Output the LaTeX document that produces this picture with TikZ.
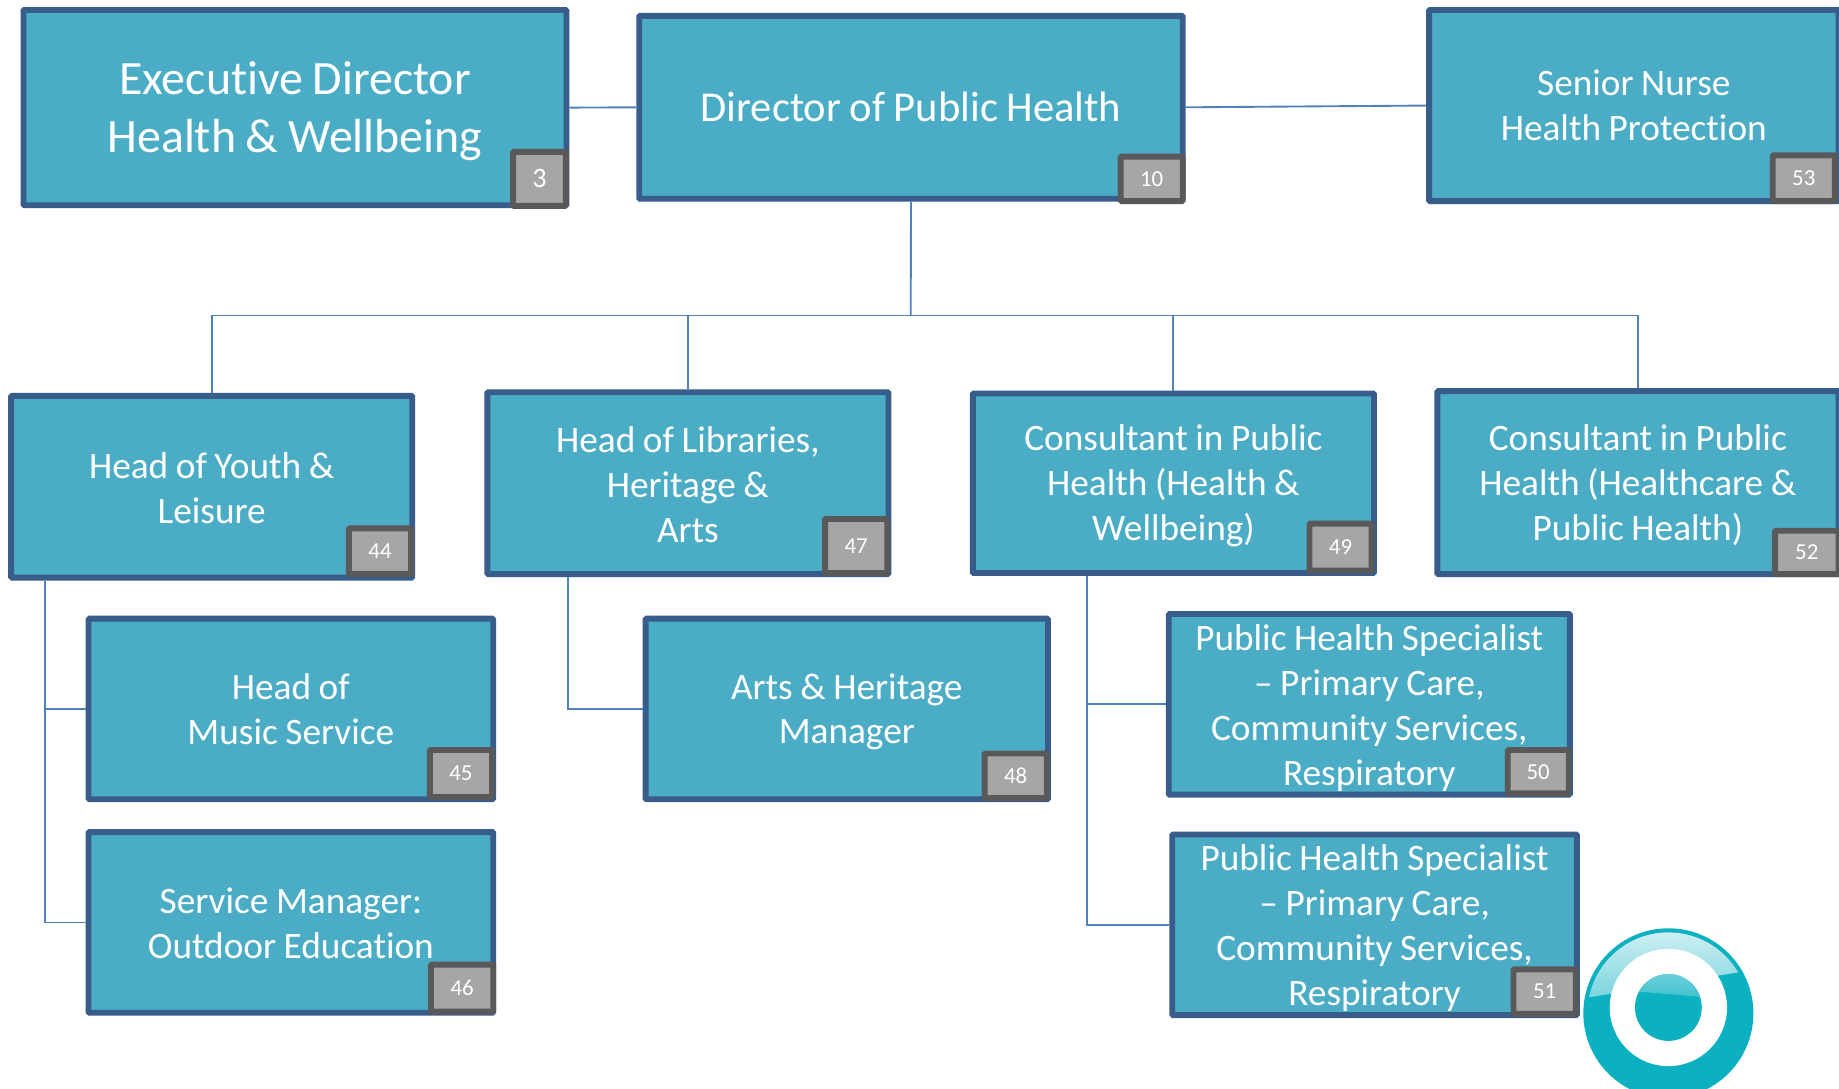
\documentclass[tikz,border=0pt]{standalone}
\usepackage{fontspec}
\setmainfont[WordSpace=0.9,Ligatures=NoCommon]{Carlito}
\definecolor{boxfill}{HTML}{4BACC6}
\definecolor{boxline}{HTML}{385D8A}
\definecolor{linkc}{HTML}{4F81BD}
\definecolor{badgefill}{HTML}{A6A6A6}
\definecolor{badgeline}{HTML}{595959}
\definecolor{logoc}{HTML}{0CB1C1}
\tikzset{
 x=1pt,y=-1pt,
 orgbox/.style={draw=boxline,fill=boxfill,line width=5pt,rounded corners=0.8pt,inner sep=0pt},
 midtext/.style={inner sep=0pt,align=center,text=white,font=\fontsize{31.8}{38.3}\selectfont},
 bigtext/.style={midtext,font=\fontsize{40.8}{50}\selectfont},
 dphtext/.style={midtext,font=\fontsize{36.3}{44}\selectfont},
 badge/.style={draw=badgeline,fill=badgefill,line width=5pt,rounded corners=0.8pt,inner sep=0pt,text=white,font=\fontsize{19.5}{22}\selectfont},
 link/.style={draw=linkc,line width=1.6pt},
}
% \obox{name}{text style}{x1}{y1}{x2}{y2}{text shift}{text}
\newcommand{\obox}[8]{%
 \node[orgbox,minimum width={#5-#3-5},minimum height={#6-#4-5}] (#1) at ({(#3+#5)/2},{(#4+#6)/2}) {};
 \node[#2] (#1-t) at ([yshift=-#7pt]#1.center) {#8};}
\newcommand{\obadge}[6]{% name, x1,y1,x2,y2, text
 \node[badge,minimum width={#4-#2-5},minimum height={#5-#3-5}] (#1) at ({(#2+#4)/2},{(#3+#5)/2}) {#6};}
\begin{document}
\begin{tikzpicture}
\useasboundingbox (0,0) rectangle (1568,928);
\fill[white] (0,0) rectangle (1568,928);
% boxes
\obox{exec}{bigtext}{17.5}{6}{485.5}{177.5}{3}{Executive Director\\Health \& Wellbeing}
\obox{dph}{dphtext}{542.5}{11}{1011}{172}{0}{Director of Public Health}
\obox{nurse}{midtext}{1216}{6}{1570}{174}{0}{Senior Nurse\\Health Protection}
\obox{youth}{midtext}{7}{335}{354}{495}{1}{Head of Youth \&\\Leisure}
\obox{lib}{midtext}{413}{332}{760}{492}{1}{Head of Libraries,\\Heritage \&\\Arts}
\obox{cons}{midtext}{827}{333}{1174}{491}{2.5}{Consultant in Public\\Health (Health \&\\Wellbeing)}
\obox{hcare}{midtext}{1223}{331}{1570}{492}{2.5}{Consultant in Public\\Health (Healthcare \&\\Public Health)}
\obox{music}{midtext}{73}{525}{423}{684}{0}{Head of\\Music Service}
\obox{arts}{midtext}{548}{525}{896}{684}{2.5}{Arts \& Heritage\\Manager}
\obox{phsa}{midtext}{994}{521}{1341}{680}{3}{Public Health Specialist\\– Primary Care,\\Community Services,\\Respiratory}
\obox{outdoor}{midtext}{73}{707}{423}{866}{1}{Service Manager:\\Outdoor Education}
\obox{phsb}{midtext}{997}{709}{1347}{868}{3}{Public Health Specialist\\– Primary Care,\\Community Services,\\Respiratory}
% badges
\obadge{b3}{435}{127}{485}{178}{\fontsize{24}{26}\selectfont 3}
\obadge{b10}{953}{131}{1011}{174}{10}
\obadge{b53}{1509}{130}{1567}{174}{53}
\obadge{b44}{295}{448}{353}{492}{44}
\obadge{b47}{701}{440}{759}{491}{47}
\obadge{b49}{1114}{444}{1172}{489}{49}
\obadge{b52}{1511}{450}{1570}{492}{52}
\obadge{b45}{364}{637}{422}{682}{45}
\obadge{b48}{837}{640}{895}{683}{48}
\obadge{b50}{1283}{637}{1340}{679}{50}
\obadge{b46}{365}{820}{423}{865}{46}
\obadge{b51}{1288}{824}{1346}{867}{51}
% connectors
\coordinate (bus) at (776.5,269);
\draw[link] (exec.east) -- (dph.west);
\draw[link] (dph.east) -- (nurse.west);
\draw[link] (dph.south) -- (bus);
\draw[link] (youth.north) |- (bus);
\draw[link] (lib.north) |- (bus);
\draw[link] (cons.north) |- (bus);
\draw[link] (hcare.north) |- (bus);
\coordinate (ytrunk) at (38,495);
\coordinate (ltrunk) at (484,492);
\coordinate (ctrunk) at (927,491);
\draw[link] (ytrunk) |- (music.west);
\draw[link] (ytrunk) |- (outdoor.west);
\draw[link] (ltrunk) |- (arts.west);
\draw[link] (ctrunk) |- (phsa.west);
\draw[link] (ctrunk) |- (phsb.west);
% logo
\fill[logoc] (1422.5,864) circle (72.5);
\begin{scope}
\clip (1422.5,864) circle (69);
\shade[top color=logoc!18,bottom color=logoc!55]
  (1345,790) -- (1500,790) -- (1500,826) -- (1345,852) -- cycle;
\end{scope}
\fill[white] (1422.5,859) circle (50);
\fill[logoc] (1422.5,859) circle (28.5);
\begin{scope}
\clip (1422.5,859) circle (28.5);
\shade[top color=logoc!55,bottom color=logoc!80] (1390,825) -- (1460,825) -- (1460,851) .. controls (1440,849) and (1415,847) .. (1390,845) -- cycle;
\end{scope}
\end{tikzpicture}
\end{document}
